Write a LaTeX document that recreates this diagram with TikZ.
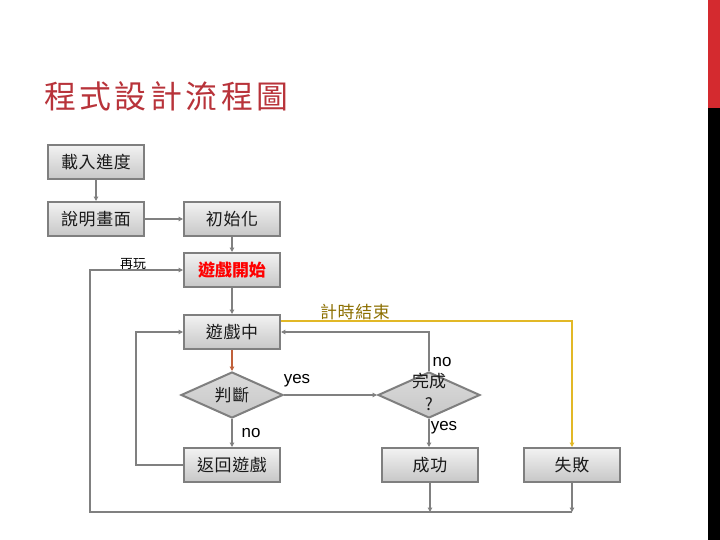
\documentclass[tikz,border=0pt]{standalone}
\usepackage{fontspec}
\setmainfont{Liberation Sans}
\newfontfamily\cjk{Noto Sans CJK TC}
\newfontfamily\cjkbox[LetterSpace=4]{Noto Sans CJK TC}
\newfontfamily\cjktitle[LetterSpace=11]{Noto Sans CJK TC}
\usetikzlibrary{shapes.geometric,arrows.meta}
\definecolor{boxline}{HTML}{7F7F7F}
\definecolor{conn}{HTML}{808080}
\definecolor{titlered}{HTML}{B8333A}
\definecolor{barred}{HTML}{D42A2F}
\definecolor{timegold}{HTML}{E2B826}
\definecolor{timetext}{HTML}{8C6F00}
\definecolor{judgeline}{HTML}{C0603A}
\tikzset{
  stepbox/.style={draw=boxline, line width=2bp, top color=white!95!black, bottom color=black!22,
    minimum width=96bp, minimum height=34bp, inner sep=0pt, font=\cjkbox\fontsize{17}{19}\selectfont, text=black!90},
  decide/.style={diamond, draw=boxline, line width=2bp, top color=black!14, bottom color=black!22,
    minimum width=102bp, minimum height=46bp, inner sep=0pt},
  flow/.style={draw=conn, line width=2bp, -{Triangle[length=4.5pt,width=4.5pt]}},
  lbl/.style={font=\fontsize{17}{19}\selectfont, text=black, inner sep=0pt}
}
\begin{document}
\begin{tikzpicture}[x=1bp,y=-1bp]
\useasboundingbox (0,0) rectangle (720,540);
\fill[white] (0,0) rectangle (720,540);
\fill[barred] (708,0) rectangle (720,108);
\fill[black] (708,108) rectangle (720,540);

\node[anchor=west, text=titlered, font=\cjktitle\fontsize{32}{36}\selectfont, inner sep=0pt] (title) at (44,96) {程式設計流程圖};

\node[stepbox] (load) at (96,162) {載入進度};
\node[stepbox] (intro) at (96,219) {說明畫面};
\node[stepbox] (init) at (232,219) {初始化};
\node[stepbox, font=\cjk\bfseries\fontsize{17}{19}\selectfont, text=red] (start) at (232,270) {遊戲開始};
\node[stepbox] (play) at (232,332) {遊戲中};
\node[decide] (judge) at (232,395) {};
\node[font=\cjkbox\fontsize{17}{19}\selectfont, text=black!90] (judget) at (232,395) {判斷};
\node[decide] (done) at (429,395) {};
\node[font=\cjk\fontsize{17}{23}\selectfont, text=black!90, align=center, inner sep=0pt] (donet) at (429,392) {完成\\?};
\node[stepbox] (back) at (232,465) {返回遊戲};
\node[stepbox] (succ) at (430,465) {成功};
\node[stepbox] (fail) at (572,465) {失敗};

\node[font=\cjk\fontsize{13}{15}\selectfont, inner sep=0pt] (replay) at (133,264) {再玩};
\node[font=\cjkbox\fontsize{17}{19}\selectfont, text=timetext, inner sep=0pt] (timeup) at (355,312) {計時結束};
\node[lbl] (yes1) at (297,381) {yes};
\node[lbl] (no1) at (251,433) {no};
\node[lbl] (no2) at (442,362) {no};
\node[lbl] (yes2) at (444,428) {yes};

\coordinate (ytop) at (572,321);
\coordinate (rl) at (429,332);
\coordinate (ll) at (136,332);
\coordinate (bl) at (90,512);
\coordinate (br) at (572,512);

\draw[flow] (load) -- (intro);
\draw[flow] (intro) -- (init);
\draw[flow] (init) -- (start);
\draw[flow] (start) -- (play);
\draw[flow, draw=judgeline] (play) -- (judge);
\draw[flow] (judge.east) -- (done.west);
\draw[flow] (judge.south) -- (back.north);
\draw[flow] (done.south) -- (done.south |- succ.north);
\draw[flow] (done.north) -- (rl) -- (play.east |- rl);
\draw[flow] (back.west) -| (ll) -- (play.west |- ll);
\draw[flow, draw=timegold] (play.east |- ytop) -- (ytop) -- (fail.north);
\draw[flow] (succ.south) -- (succ.south |- br);
\draw[flow] (fail.south) -- (br);
\draw[flow] (br) -- (bl) -- (bl |- start.west) -- (start.west);
\end{tikzpicture}
\end{document}
